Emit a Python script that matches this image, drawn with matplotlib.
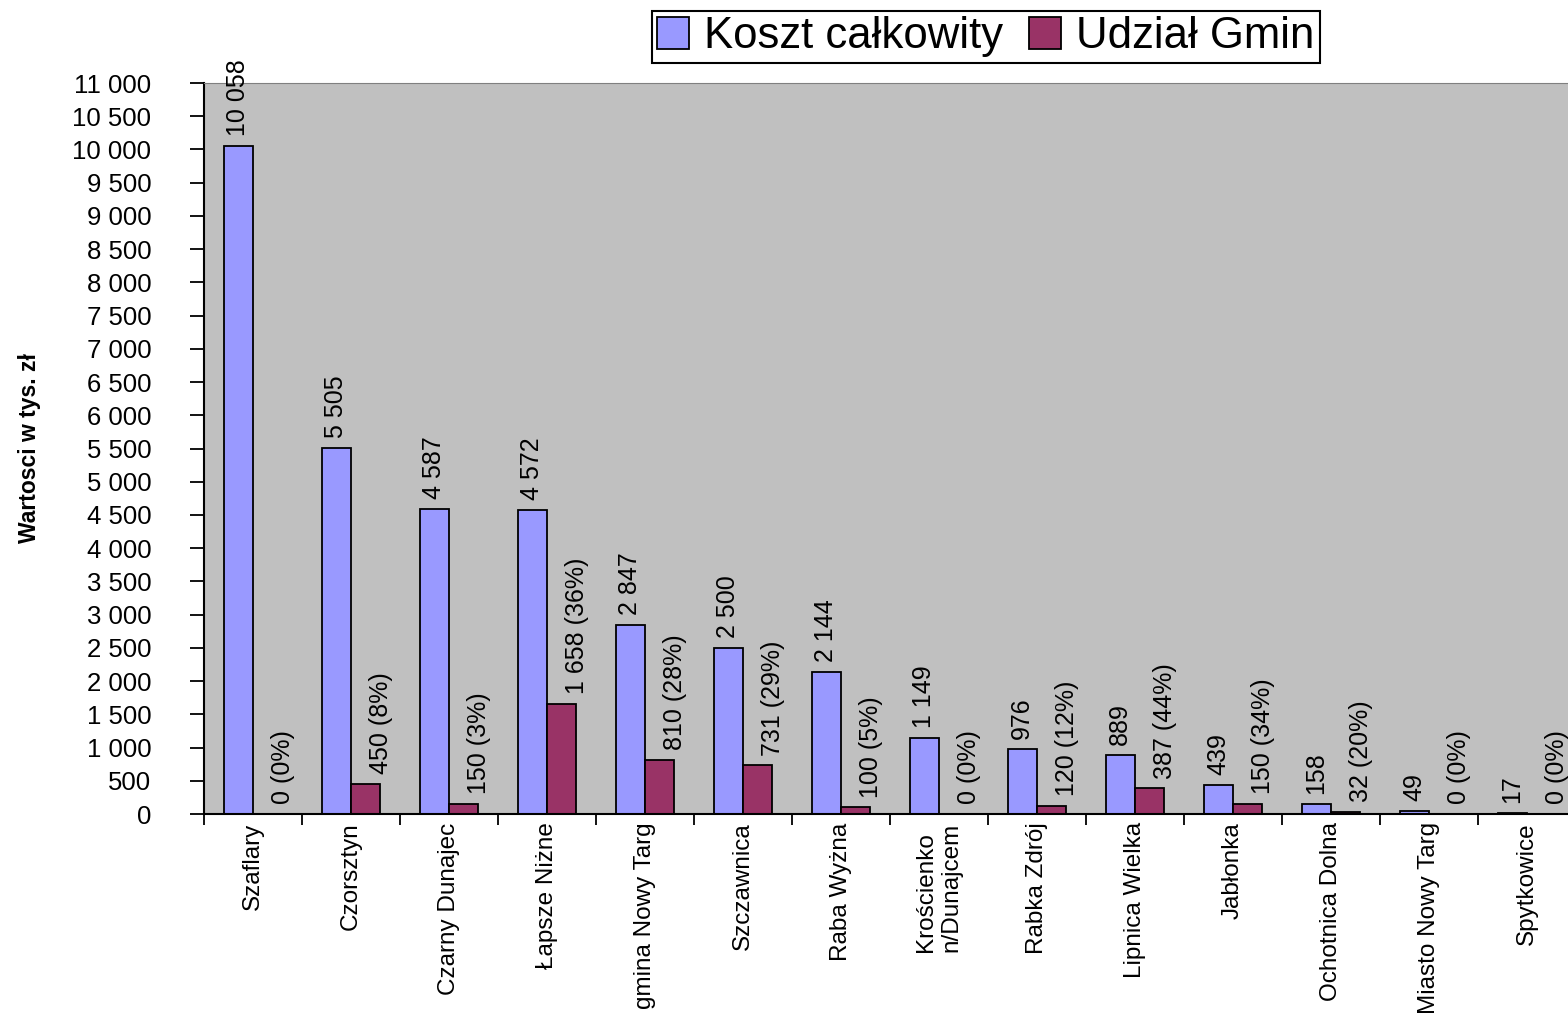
import matplotlib
matplotlib.use("Agg")
import matplotlib.pyplot as plt
from matplotlib.patches import Patch
import numpy as np

# --------------------- Data ---------------------
gminy = ["Szaflary", "Czorsztyn", "Czarny Dunajec", "Łapsze Niżne", "gmina Nowy Targ",
         "Szczawnica", "Raba Wyżna", "Krościenko\nn/Dunajcem", "Rabka Zdrój",
         "Lipnica Wielka", "Jabłonka", "Ochotnica Dolna", "Miasto Nowy Targ", "Spytkowice"]
koszt = [10058, 5505, 4587, 4572, 2847, 2500, 2144, 1149, 976, 889, 439, 158, 49, 17]
udzial = [0, 450, 150, 1658, 810, 731, 100, 0, 120, 387, 150, 32, 0, 0]
udzial_pct = [0, 8, 3, 36, 28, 29, 5, 0, 12, 44, 34, 20, 0, 0]
y_ticks = list(range(0, 11001, 500))

BLUE = "#9999FF"
MAROON = "#993366"
FONT = "Liberation Sans"


def fmt(v):
    return f"{v:,}".replace(",", " ")


plt.rcParams["font.family"] = FONT

fig = plt.figure(figsize=(15.68, 10.16), dpi=100)
ax = fig.add_axes([204 / 1568, 1 - 814 / 1016, 1372 / 1568, 731 / 1016])
ax.set_facecolor("#C0C0C0")

x = np.arange(len(gminy))
w = 0.3
ax.bar(x - w / 2, koszt, width=w, color=BLUE, edgecolor="black", linewidth=1.3, zorder=2)
ax.bar(x + w / 2, udzial, width=w, color=MAROON, edgecolor="black", linewidth=1.3, zorder=2)

# value labels (rotated, Excel style)
for i in range(len(gminy)):
    ax.annotate(fmt(koszt[i]), (x[i] - w / 2, koszt[i]), xytext=(0, 7),
                textcoords="offset points", rotation=90, ha="center", va="bottom",
                fontsize=18)
    ax.annotate(f"{fmt(udzial[i])} ({udzial_pct[i]}%)", (x[i] + w / 2, udzial[i]),
                xytext=(11, 7), textcoords="offset points", rotation=90,
                ha="center", va="bottom", fontsize=18)

ax.set_xlim(-0.5, len(gminy) - 0.5)
ax.set_ylim(0, 11000)
ax.set_yticks(y_ticks)
ax.set_yticklabels([fmt(v) for v in y_ticks], fontsize=18.5)
ax.tick_params(axis="y", direction="out", length=10, width=1.3, pad=28)

ax.set_xticks(x)
ax.set_xticklabels(gminy, rotation=90, fontsize=17.5, va="top", ha="center",
                   multialignment="left")
ax.set_xticks(np.arange(-0.5, len(gminy)), minor=True)
ax.tick_params(axis="x", which="major", length=0, pad=6)
ax.tick_params(axis="x", which="minor", direction="out", length=8, width=1.3)

for s in ["left", "bottom"]:
    ax.spines[s].set_linewidth(1.5)
    ax.spines[s].set_color("black")
ax.spines["top"].set_color("#808080")
ax.spines["right"].set_visible(False)

fig.text(30 / 1568, 1 - 448 / 1016, "Wartosci w tys. zł", rotation=90,
         fontsize=16.5, fontweight="bold", ha="center", va="center")

handles = [Patch(facecolor=BLUE, edgecolor="black", linewidth=1.3),
           Patch(facecolor=MAROON, edgecolor="black", linewidth=1.3)]
leg = fig.legend(handles, ["Koszt całkowity", "Udział Gmin"], ncol=2,
                 loc="upper left", bbox_to_anchor=(652 / 1568, 1 - 11 / 1016),
                 fontsize=31.5, frameon=True, fancybox=False, framealpha=1,
                 edgecolor="black", handlelength=0.72, handleheight=0.72,
                 handletextpad=0.35, columnspacing=0.6, borderpad=0.12,
                 borderaxespad=0)
leg.get_frame().set_linewidth(1.5)

fig.savefig("out.png", dpi=100)
